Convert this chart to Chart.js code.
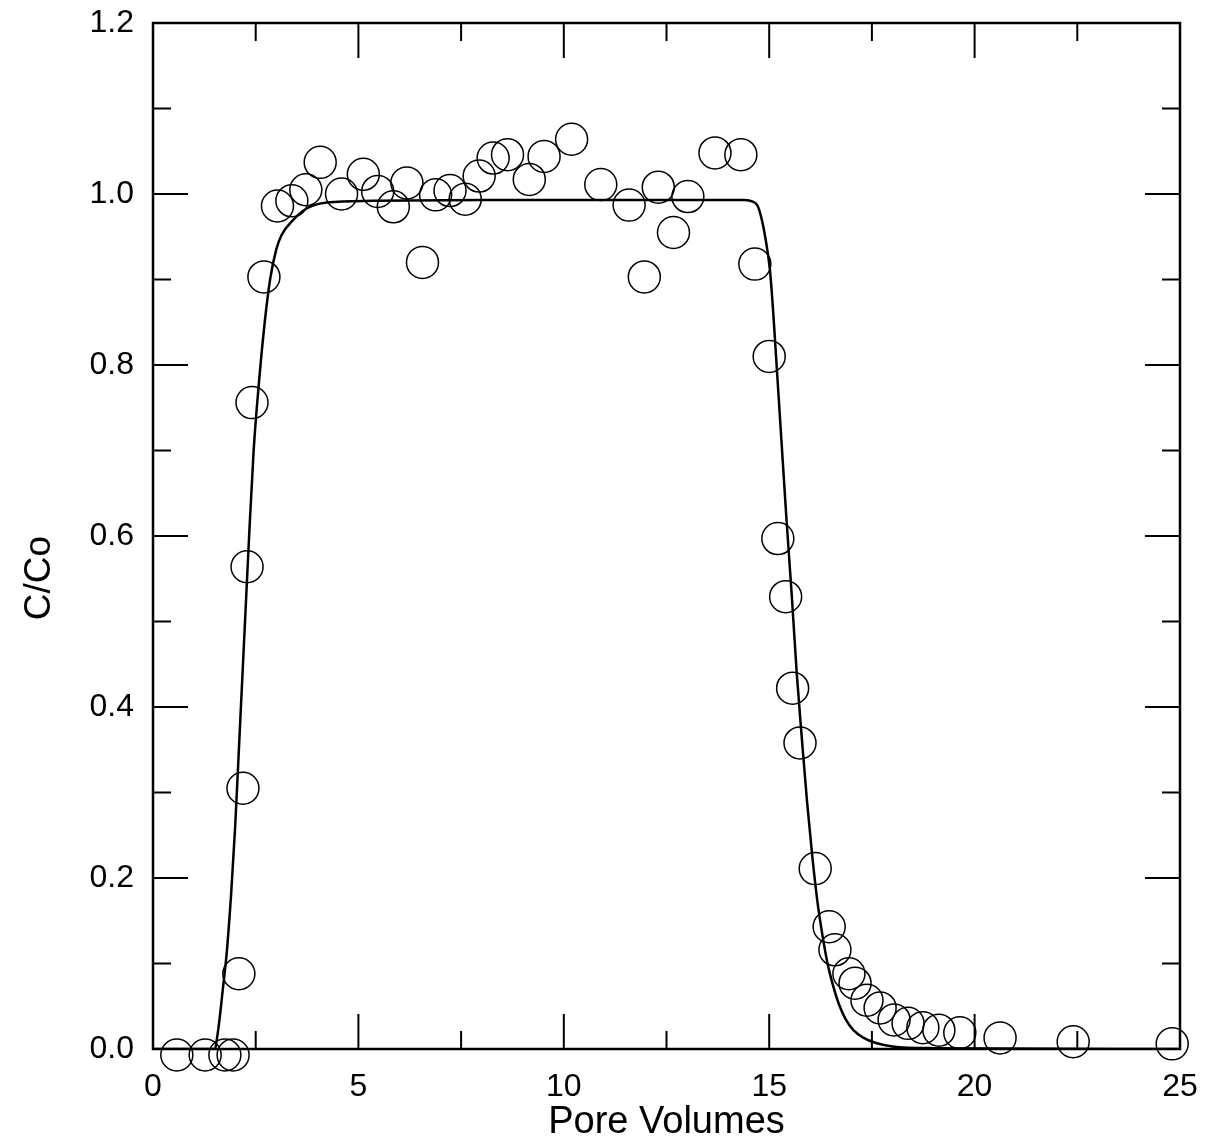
<!DOCTYPE html>
<html>
<head>
<meta charset="utf-8">
<script src="https://cdn.jsdelivr.net/npm/chart.js@4.4.1/dist/chart.umd.min.js"></script>
<style>
  html, body { margin: 0; padding: 0; background: #fff; }
  #wrap { width: 1216px; height: 1145px; }
</style>
</head>
<body>
<div id="wrap"><canvas id="plot"></canvas></div>
<script>
// measured C/Co values (open circles)
const obsX = [0.58, 1.27, 1.75, 1.95, 2.09, 2.19, 2.29, 2.41, 2.70,
  3.03, 3.38, 3.72, 4.07, 4.59, 5.12, 5.47, 5.85, 6.18, 6.56,
  6.88, 7.23, 7.60, 7.94, 8.28, 8.63, 9.16, 9.52, 10.19, 10.90,
  11.59, 11.96, 12.30, 12.67, 13.02, 13.68, 14.31, 14.65,
  15.00, 15.21, 15.40, 15.57, 15.75, 16.12, 16.46, 16.60, 16.94, 17.09,
  17.38, 17.70, 18.04, 18.38, 18.74, 19.13, 19.64, 20.62, 22.40, 24.81];
const obsY = [-0.007, -0.007, -0.007, -0.007, 0.088, 0.305, 0.564, 0.756, 0.903,
  0.986, 0.992, 1.005, 1.037, 1.000, 1.023, 1.003, 0.985, 1.013, 0.920,
  0.999, 1.004, 0.994, 1.021, 1.042, 1.046, 1.017, 1.044, 1.064, 1.011,
  0.987, 0.903, 1.008, 0.955, 0.997, 1.048, 1.046, 0.918,
  0.810, 0.597, 0.529, 0.422, 0.358, 0.211, 0.143, 0.116, 0.088, 0.077,
  0.057, 0.048, 0.034, 0.030, 0.025, 0.022, 0.019, 0.013, 0.0085, 0.006];

// fitted curve
const fitX = [0, 1.51, 1.55, 1.62, 1.70, 1.79, 1.90, 2.00, 2.12, 2.24, 2.34, 2.45,
  2.58, 2.72, 2.85, 3.00, 3.13, 3.42, 3.74, 4.23, 5.36, 8, 11, 14.40,
  14.60, 14.72, 14.82, 14.92, 15.02, 15.10, 15.18, 15.30, 15.42, 15.55,
  15.67, 15.80, 15.92, 16.05, 16.18, 16.30, 16.42, 16.55, 16.70, 16.86,
  17.05, 17.30, 17.60, 18.00, 19.00, 25];
const fitY = [0, 0, 0.01, 0.035, 0.07, 0.11, 0.18, 0.26, 0.38, 0.50, 0.60, 0.70,
  0.78, 0.85, 0.90, 0.935, 0.952, 0.970, 0.983, 0.990, 0.992, 0.993, 0.993, 0.993,
  0.991, 0.986, 0.970, 0.945, 0.910, 0.860, 0.800, 0.710, 0.620, 0.530,
  0.440, 0.360, 0.290, 0.225, 0.170, 0.132, 0.100, 0.075, 0.052, 0.035,
  0.022, 0.013, 0.007, 0.003, 0.001, 0];

const xTicks = [0, 5, 10, 15, 20, 25];
const yTicks = [0, 0.2, 0.4, 0.6, 0.8, 1.0, 1.2];

const FONT = "'Liberation Sans', Arial, sans-serif";

// frame with inward ticks on all four sides + y title
const frameTicks = {
  id: 'frameTicks',
  afterDraw(chart) {
    const ctx = chart.ctx;
    const a = chart.chartArea;
    const xs = chart.scales.x, ys = chart.scales.y;
    ctx.save();
    ctx.strokeStyle = '#000';
    ctx.lineWidth = 2.5;
    ctx.strokeRect(a.left, a.top, a.right - a.left, a.bottom - a.top);
    ctx.lineWidth = 2;
    ctx.beginPath();
    for (let v = 0; v <= 25.001; v += 2.5) {
      const len = (Math.round(v * 10) % 50 === 0) ? 35 : 18;
      const px = xs.getPixelForValue(v);
      ctx.moveTo(px, a.bottom); ctx.lineTo(px, a.bottom - len);
      ctx.moveTo(px, a.top); ctx.lineTo(px, a.top + len);
    }
    for (let i = 0; i <= 12; i++) {
      const len = (i % 2 === 0) ? 35 : 18;
      const py = ys.getPixelForValue(i / 10);
      ctx.moveTo(a.left, py); ctx.lineTo(a.left + len, py);
      ctx.moveTo(a.right, py); ctx.lineTo(a.right - len, py);
    }
    ctx.stroke();

    ctx.fillStyle = '#000';
    ctx.font = '37px ' + FONT;
    ctx.textAlign = 'center';
    ctx.textBaseline = 'middle';
    ctx.translate(40, 578);
    ctx.rotate(-Math.PI / 2);
    ctx.fillText('C/Co', 0, 0);
    ctx.restore();
  }
};

const ctx = document.getElementById('plot');
new Chart(ctx, {
  type: 'scatter',
  data: {
    datasets: [{
      label: 'fit',
      data: fitX.map((x, i) => ({ x: x, y: fitY[i] })),
      showLine: true,
      borderColor: '#000',
      borderWidth: 2.5,
      pointRadius: 0,
      cubicInterpolationMode: 'monotone',
      fill: false
    }, {
      label: 'measured',
      data: obsX.map((x, i) => ({ x: x, y: obsY[i] })),
      showLine: false,
      pointRadius: 16,
      pointBorderWidth: 1.5,
      pointBorderColor: '#000',
      pointBackgroundColor: 'rgba(0,0,0,0)',
      clip: false
    }]
  },
  options: {
    responsive: true,
    maintainAspectRatio: false,
    animation: false,
    layout: { padding: { left: 0, right: 36, top: 23, bottom: 0 } },
    plugins: {
      legend: { display: false },
      tooltip: { enabled: false }
    },
    scales: {
      x: {
        type: 'linear',
        min: 0, max: 25,
        afterBuildTicks: (s) => { s.ticks = xTicks.map(v => ({ value: v })); },
        afterFit: (s) => { s.height = 96; s.paddingLeft = 0; s.paddingRight = 0; },
        grid: { display: false, drawTicks: false },
        border: { display: false },
        ticks: { color: '#000', font: { family: FONT, size: 32 }, padding: 19, maxRotation: 0 },
        title: { display: true, text: 'Pore Volumes', color: '#000',
                 font: { family: FONT, size: 38 }, padding: { top: 0, bottom: 0 } }
      },
      y: {
        type: 'linear',
        min: 0, max: 1.2,
        afterBuildTicks: (s) => { s.ticks = yTicks.map(v => ({ value: v })); },
        afterFit: (s) => { s.width = 153; s.paddingTop = 0; s.paddingBottom = 0; },
        grid: { display: false, drawTicks: false },
        border: { display: false },
        ticks: { color: '#000', font: { family: FONT, size: 32 }, padding: 19,
                 callback: (v) => Number(v).toFixed(1) }
      }
    }
  },
  plugins: [frameTicks]
});
</script>
</body>
</html>
